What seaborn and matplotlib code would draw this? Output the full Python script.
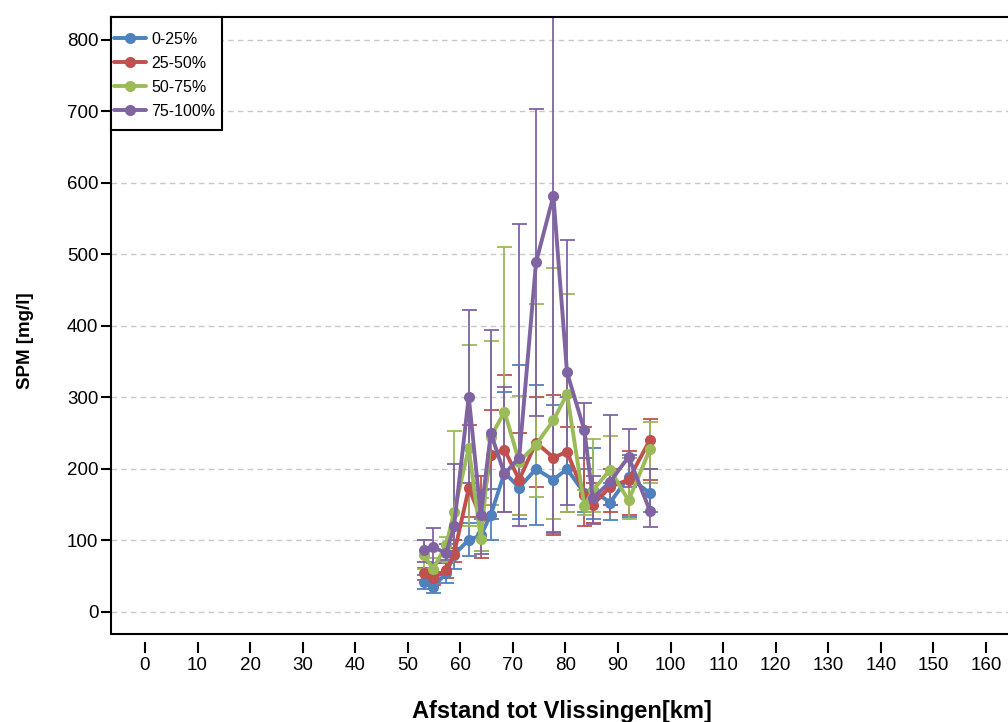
import matplotlib
matplotlib.use("Agg")
import matplotlib.pyplot as plt
from matplotlib.patches import Rectangle
import numpy as np
import pandas as pd
import seaborn as sns

# Meetlocaties (afstand tot Vlissingen, km)
afstand = [53.1, 54.8, 57.3, 58.8, 61.6, 63.9, 65.8, 68.4, 71.2, 74.4,
           77.7, 80.3, 83.6, 85.2, 88.5, 92.0, 96.1]

klassen = ["0-25%", "25-50%", "50-75%", "75-100%"]
kleuren = ["#4F81BD", "#C0504D", "#9BBB59", "#8064A2"]

# Gemiddelde SPM per klasse (mg/l)
spm_0_25 = [42, 35, 54, 80, 101, 107, 136, 195, 174, 200, 185, 200, 166, 170, 153, 189, 166]
spm_25_50 = [54, 47, 58, 81, 173, 133, 220, 227, 185, 237, 216, 224, 164, 150, 175, 185, 241]
spm_50_75 = [80, 60, 93, 140, 229, 102, 245, 280, 210, 234, 268, 305, 148, 170, 199, 156, 228]
spm_75_100 = [87, 91, 82, 120, 301, 135, 250, 193, 216, 489, 582, 335, 254, 159, 182, 217, 141]

# Onder- en bovengrens van de foutbalken (mg/l)
laag_0_25 = [32, 27, 40, 60, 78, 85, 100, 140, 130, 122, 110, 140, 140, 130, 128, 133, 140]
hoog_0_25 = [52, 45, 68, 100, 125, 130, 172, 307, 345, 317, 290, 300, 200, 230, 180, 220, 200]
laag_25_50 = [45, 38, 48, 70, 133, 75, 150, 140, 135, 175, 108, 140, 120, 125, 140, 135, 185]
hoog_25_50 = [62, 56, 70, 100, 261, 190, 282, 331, 250, 300, 304, 259, 259, 180, 200, 225, 270]
laag_50_75 = [60, 48, 70, 90, 120, 85, 150, 140, 135, 161, 130, 140, 135, 140, 150, 130, 180]
hoog_50_75 = [100, 75, 105, 253, 373, 160, 379, 511, 302, 431, 481, 445, 170, 242, 246, 215, 266]
laag_75_100 = [70, 68, 72, 90, 180, 81, 130, 140, 120, 274, 112, 150, 215, 123, 150, 175, 119]
hoog_75_100 = [100, 118, 95, 207, 423, 170, 395, 315, 543, 704, 1050, 520, 292, 190, 276, 256, 200]

gemiddelden = [spm_0_25, spm_25_50, spm_50_75, spm_75_100]
ondergrenzen = [laag_0_25, laag_25_50, laag_50_75, laag_75_100]
bovengrenzen = [hoog_0_25, hoog_25_50, hoog_50_75, hoog_75_100]

x_ticks = list(range(0, 161, 10))
y_ticks = list(range(0, 801, 100))

rijen = []
for klasse, waarden, laag, hoog in zip(klassen, gemiddelden, ondergrenzen, bovengrenzen):
    for a, w, lo, hi in zip(afstand, waarden, laag, hoog):
        rijen.append({"afstand": a, "spm": w, "laag": lo, "hoog": hi, "klasse": klasse})
df = pd.DataFrame(rijen)

sns.set_style("white")
plt.rcParams["font.family"] = ["Liberation Sans", "DejaVu Sans"]
plt.rcParams["text.color"] = "black"
plt.rcParams["axes.labelcolor"] = "black"
plt.rcParams["xtick.color"] = "black"
plt.rcParams["ytick.color"] = "black"

fig = plt.figure(figsize=(10.08, 7.22), dpi=100)
ax = fig.add_axes([0.1101, 0.1219, 0.892, 0.8546])

# Foutbalken per klasse
for klasse, kleur in zip(klassen, kleuren):
    sub = df[df["klasse"] == klasse]
    ax.errorbar(sub["afstand"], sub["spm"],
                yerr=[sub["spm"] - sub["laag"], sub["hoog"] - sub["spm"]],
                fmt="none", ecolor=kleur, elinewidth=1.3, capsize=5.4,
                capthick=1.3, zorder=2)

sns.lineplot(data=df, x="afstand", y="spm", hue="klasse", hue_order=klassen,
             palette=kleuren, marker="o", markersize=8, markeredgewidth=0,
             linewidth=2.8, errorbar=None, sort=False, ax=ax, zorder=3)

ax.set_xlim(-6.47, 164.6)
ax.set_ylim(-30.8, 832.2)
ax.set_xticks(x_ticks)
ax.set_yticks(y_ticks)
ax.set_xticklabels([str(t) for t in x_ticks])
ax.set_yticklabels([str(t) for t in y_ticks])

ax.yaxis.grid(True, linestyle=(0, (4, 3)), color="#c8c8c8", linewidth=1.0)
ax.xaxis.grid(False)
ax.set_axisbelow(True)

# Kader rond het plotgebied; x-as los eronder
for side in ["top", "right", "left"]:
    ax.spines[side].set_color("black")
    ax.spines[side].set_linewidth(1.5)
ax.spines["bottom"].set_position(("outward", 6))
ax.spines["bottom"].set_visible(False)
ax.plot([0, 1], [0, 0], transform=ax.transAxes, color="black", lw=1.5,
        clip_on=False, zorder=5)

ax.tick_params(axis="y", which="major", direction="out", length=7, width=1.5,
               labelsize=13.5, pad=2, left=True)
ax.tick_params(axis="x", which="major", direction="out", length=8, width=1.5,
               labelsize=13.5, pad=2.5, bottom=True)

ax.set_xlabel("Afstand tot Vlissingen[km]", fontsize=17, fontweight="bold")
ax.set_ylabel("SPM [mg/l]", fontsize=13.5, fontweight="bold")
ax.xaxis.set_label_coords(0.5015, -0.107)
ax.yaxis.set_label_coords(-0.086, 0.475)

# Legenda met eigen kader in de linkerbovenhoek
ax.add_patch(Rectangle((0, 0.8169), 0.1235, 0.1831, transform=ax.transAxes,
                       facecolor="white", edgecolor="black", linewidth=1.5,
                       zorder=6, clip_on=False))
leg = ax.legend(loc="upper left", bbox_to_anchor=(0.0033, 0.9758),
                borderaxespad=0, borderpad=0, fontsize=11.5, frameon=False,
                handlelength=2.0, handletextpad=0.33, labelspacing=0.56,
                title=None)
leg.set_zorder(7)

fig.savefig("out.png", dpi=100)
